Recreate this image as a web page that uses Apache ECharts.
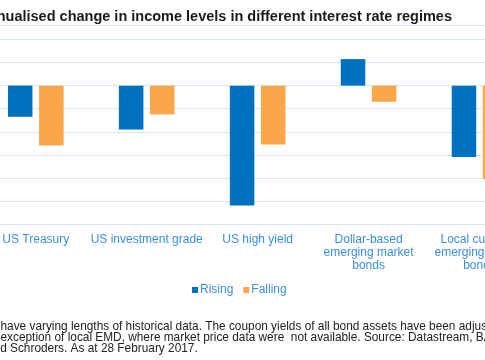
<!DOCTYPE html>
<html>
<head>
<meta charset="utf-8">
<script src="https://cdn.jsdelivr.net/npm/echarts@6/dist/echarts.min.js"></script>
<style>
html,body{margin:0;padding:0;width:485px;height:360px;overflow:hidden;background:#fff;}
#chart{position:absolute;left:-60px;top:0;width:605px;height:360px;}
</style>
</head>
<body>
<div id="chart"></div>
<script>
const categories = ['US Treasury', 'US investment grade', 'US high yield', 'Dollar-based\nemerging market\nbonds', 'Local currency\nemerging market\nbonds'];
const rising = [-1.35, -1.9, -5.2, 1.15, -3.1];
const falling = [-2.6, -1.25, -2.55, -0.7, -4.05];
const seriesNames = ['Rising', 'Falling'];
const titleText = 'Annualised change in income levels in different interest rate regimes';
const noteLines = [
  'have varying lengths of historical data. The coupon yields of all bond assets have been adjusted',
  'exception of local EMD, where market price data were  not available. Source: Datastream, BAML',
  'and Schroders. As at 28 February 2017.'
];

const OX = 60;
const FONT = '"Liberation Sans", Arial, sans-serif';
const chart = echarts.init(document.getElementById('chart'));
chart.setOption({
  animation: false,
  backgroundColor: '#fff',
  textStyle: { fontFamily: FONT },
  grid: { left: OX - 19.7, right: 605 - (OX + 535), top: 39.5, bottom: 360 - 224 },
  legend: {
    data: seriesNames,
    left: OX + 187, top: 279,
    icon: 'rect', itemWidth: 6, itemHeight: 6, itemGap: 10,
    textStyle: { color: '#3a8ee0', fontSize: 12, fontFamily: FONT, padding: [0,0,0,-3] }
  },
  xAxis: {
    type: 'category',
    data: categories,
    position: 'bottom',
    axisLine: { onZero: false, lineStyle: { color: '#d6e6f6' } },
    axisTick: { show: false },
    axisLabel: { interval: 0, color: '#3a8ee0', fontSize: 12, lineHeight: 13, margin: 9, fontFamily: FONT }
  },
  yAxis: {
    type: 'value', min: -6, max: 2, interval: 1,
    axisLabel: { show: false },
    axisLine: { show: false },
    axisTick: { show: false },
    splitLine: { lineStyle: { color: '#d6e6f6', width: 1 } }
  },
  series: [
    { name: seriesNames[0], type: 'bar', data: rising, barWidth: 24.5, barGap: '27%', itemStyle: { color: '#0070c0' } },
    { name: seriesNames[1], type: 'bar', data: falling, barWidth: 24.5, itemStyle: { color: '#faa64b' } }
  ],
  graphic: [
    { type: 'text', right: 605 - (OX + 452), top: 9, style: { text: titleText, font: 'bold 14.5px ' + FONT, fill: '#1a1a1a' } },
    { type: 'rect', left: 0, top: 25, shape: { width: 605, height: 1 }, style: { fill: '#d6e6f6' } },
    { type: 'text', left: OX + 0.5, top: 321, style: { text: noteLines[0], font: '11.85px ' + FONT, fill: '#222' } },
    { type: 'text', left: OX + 0.5, top: 332, style: { text: noteLines[1], font: '11.85px ' + FONT, fill: '#222' } },
    { type: 'text', left: OX - 13, top: 343, style: { text: noteLines[2], font: '11.85px ' + FONT, fill: '#222' } }
  ]
});
</script>
</body>
</html>
